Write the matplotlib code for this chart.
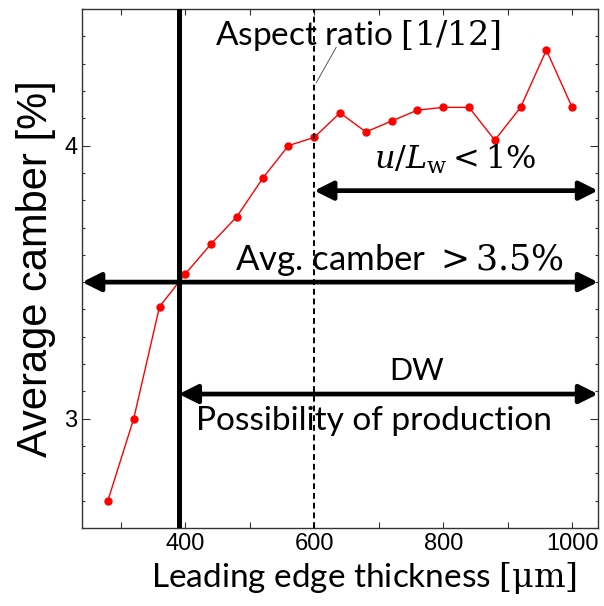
import matplotlib
matplotlib.use("Agg")
import matplotlib.pyplot as plt
from matplotlib.ticker import MultipleLocator, FixedLocator

plt.rcParams["mathtext.fontset"] = "dejavuserif"

# data
thickness = [280, 320, 360, 400, 440, 480, 520, 560, 600, 640,
             680, 720, 760, 800, 840, 880, 920, 960, 1000]
camber = [2.70, 3.00, 3.41, 3.53, 3.64, 3.74, 3.88, 4.00, 4.03, 4.12,
          4.05, 4.09, 4.13, 4.14, 4.14, 4.02, 4.14, 4.35, 4.14]

x_limit_line = 390      # where camber crosses 3.5 %
x_aspect_line = 600     # aspect ratio 1/12
camber_limit = 3.5
u_arrow_y = 3.835
dw_arrow_y = 3.09

x_major = [400, 600, 800, 1000]
x_minor = [300, 500, 700, 900]

LABEL_FONT = "Lato"
TICK_FONT = "Liberation Sans"


def double_arrow(ax, x0, x1, y):
    ax.annotate("", xy=(x1, y), xytext=(x0, y),
                arrowprops=dict(arrowstyle="<|-|>", lw=3.4, color="k",
                                mutation_scale=28, shrinkA=0, shrinkB=0),
                annotation_clip=False)


fig = plt.figure(figsize=(6.04, 6.06), dpi=100)
ax = fig.add_axes([0.136, 0.129, 0.854, 0.856])

ax.set_xlim(240, 1040)
ax.set_ylim(2.6, 4.5)

# measured curve
ax.plot(thickness, camber, color="red", lw=1.0, marker="o", ms=5,
        markeredgecolor="red", zorder=3)

# limit lines
ax.axvline(x_limit_line, color="k", lw=3.6, zorder=4)
ax.axvline(x_aspect_line, color="k", lw=1.4, ls=(0, (3, 2)), zorder=4)

# range arrows
double_arrow(ax, 240, 1040, camber_limit)
double_arrow(ax, x_aspect_line, 1040, u_arrow_y)
double_arrow(ax, x_limit_line, 1040, dw_arrow_y)

# annotations
ax.text(668, 4.405, "Aspect ratio $[1/12]$", fontsize=24, family=LABEL_FONT,
        ha="center", va="center", zorder=5)
ax.plot([634, 603], [4.36, 4.23], color="0.25", lw=0.6, zorder=5)
ax.text(819, 3.95, r"$u/L_\mathrm{w} < 1\%$", fontsize=23,
        ha="center", va="center")
ax.text(732, 3.58, r"Avg. camber $> 3.5\%$", fontsize=25, family=LABEL_FONT,
        ha="center", va="center", zorder=5)
ax.text(758, 3.175, "DW", fontsize=22, family=LABEL_FONT,
        ha="center", va="center")
ax.text(692, 2.99, "Possibility of production", fontsize=24,
        family=LABEL_FONT, ha="center", va="center", zorder=5)

# ticks
ax.xaxis.set_major_locator(FixedLocator(x_major))
ax.xaxis.set_minor_locator(FixedLocator(x_minor))
ax.yaxis.set_major_locator(MultipleLocator(1))
ax.yaxis.set_minor_locator(MultipleLocator(0.1))
ax.tick_params(which="both", direction="in", top=True, right=True,
               width=0.8, color="0.2")
ax.tick_params(axis="x", which="both", length=4.5)
ax.tick_params(axis="y", which="major", length=5.5)
ax.tick_params(axis="y", which="minor", length=2.5)
for lab in ax.get_xticklabels() + ax.get_yticklabels():
    lab.set_family(TICK_FONT)
    lab.set_fontsize(17)
for s in ax.spines.values():
    s.set_linewidth(1.0)
    s.set_color("0.2")

ax.set_xlabel(r"Leading edge thickness $[\mathrm{\mu m}]$", fontsize=24,
              family=LABEL_FONT, labelpad=4)
ax.xaxis.label.set_x(0.547)
ax.set_ylabel("Average camber [%]", fontsize=30, family=TICK_FONT,
              labelpad=6)

fig.savefig("out.png", dpi=100)
